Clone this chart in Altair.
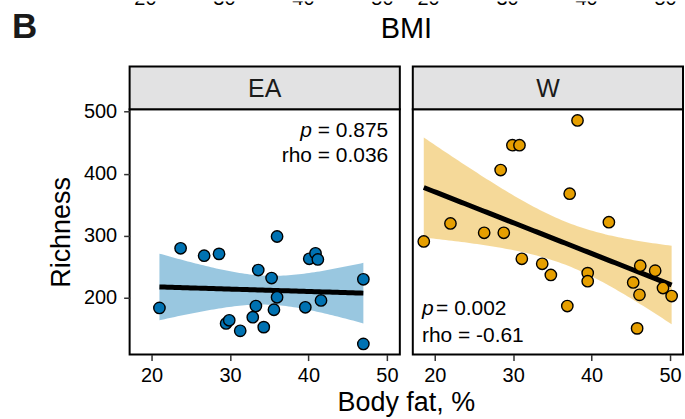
import numpy as np
import pandas as pd
import altair as alt

# ---- data -------------------------------------------------------------
ea_fat = [21.0, 23.7, 26.7, 28.6, 29.5, 29.9, 31.3, 32.9, 33.3, 33.6, 34.3,
          35.3, 35.6, 36.0, 36.0, 39.6, 40.1, 40.9, 41.2, 41.6, 47.0, 47.0]
ea_rich = [184, 280, 268, 271, 159, 164, 147, 169, 187, 245, 153,
           232, 181, 299, 201, 185, 263, 272, 262, 196, 230, 126]

w_fat = [18.6, 22.0, 26.3, 28.8, 28.4, 29.9, 30.8, 31.1, 33.7, 34.8, 38.2, 37.2,
         36.9, 39.5, 39.5, 42.2, 45.3, 46.2, 46.1, 45.8, 48.1, 49.1, 50.2]
w_rich = [291, 320, 305, 305, 406, 446, 446, 263, 255, 237, 486, 368,
          187, 240, 227, 322, 225, 252, 205, 151, 244, 216, 203]

ea_stats = ("0.875", "0.036")
w_stats = ("0.002", "-0.61")

fat_ticks = [20, 30, 40, 50]
rich_ticks = [200, 300, 400, 500]
bmi_ticks = [20, 30, 40, 50]

# two-sided 95% t quantiles for the residual degrees of freedom
T95 = {20: 2.0860, 21: 2.0796}

# ---- styling ------------------------------------------------------------
FONT = "Liberation Sans"
EA_COL = "#0072B2"
W_COL = "#E69F00"
STRIP_FILL = "#E2E2E3"
PW, PH = 271, 246          # panel size
STRIP_H = 43
X_DOM = [17.2, 51.65]
Y_DOM = [108.8, 503.9]
BMI_DOM = [18.0, 52.2]
ANNOT = 21

ADV = {" ": .278, "=": .584, ".": .278, "-": .333, "r": .333,
       "h": .556, "o": .556, "p": .556}


def text_w(s, size):
    return sum(ADV.get(c, .556) for c in s) * size


def lm_band(xv, yv, n_grid=80):
    x = np.asarray(xv, float)
    y = np.asarray(yv, float)
    n = len(x)
    b1, b0 = np.polyfit(x, y, 1)
    s = np.sqrt(np.sum((y - (b0 + b1 * x)) ** 2) / (n - 2))
    sxx = np.sum((x - x.mean()) ** 2)
    gx = np.linspace(x.min(), x.max(), n_grid)
    fit = b0 + b1 * gx
    se = s * np.sqrt(1 / n + (gx - x.mean()) ** 2 / sxx)
    t = T95[n - 2]
    return pd.DataFrame({"x": gx, "fit": fit, "lo": fit - t * se, "hi": fit + t * se})


one = pd.DataFrame({"k": [0]})


def xscale():
    return alt.Scale(domain=X_DOM, nice=False, zero=False)


def yscale():
    return alt.Scale(domain=Y_DOM, nice=False, zero=False)


def panel(label, fat, rich, color, stats, left):
    pts = pd.DataFrame({"fat": fat, "rich": rich})
    band_df = lm_band(fat, rich)

    xaxis = alt.Axis(values=fat_ticks, title=None)
    if left:
        yenc = alt.Y("lo:Q", scale=yscale(),
                     axis=alt.Axis(values=rich_ticks, title="Richness", labelPadding=7))
    else:
        yenc = alt.Y("lo:Q", scale=yscale(), axis=None)

    band = alt.Chart(band_df).mark_area(color=color, opacity=0.4).encode(
        x=alt.X("x:Q", scale=xscale(), axis=xaxis), y=yenc, y2="hi:Q")
    line = alt.Chart(band_df).mark_line(color="black", strokeWidth=5).encode(
        x=alt.X("x:Q", scale=xscale()), y=alt.Y("fit:Q", scale=yscale()))
    dots = alt.Chart(pts).mark_circle(
        size=130, color=color, opacity=1, stroke="black", strokeWidth=1.4
    ).encode(x=alt.X("fat:Q", scale=xscale()), y=alt.Y("rich:Q", scale=yscale()))

    strip = alt.Chart(one).mark_rect(
        fill=STRIP_FILL, stroke="black", strokeWidth=2
    ).encode(x=alt.value(0), x2=alt.value(PW), y=alt.value(-STRIP_H), y2=alt.value(0))
    strip_txt = alt.Chart(one).mark_text(
        text=label, fontSize=25, font=FONT, color="#1a1a1a", baseline="middle"
    ).encode(x=alt.value(PW / 2), y=alt.value(-STRIP_H / 2 + 1))

    p_val, rho = stats
    rest = " = " + p_val
    rho_txt = "rho = " + rho
    if left:
        xr = 259.3
        y1, y2 = 22, 47
        t1 = alt.Chart(one).mark_text(text="p", fontStyle="italic", align="right",
                                      baseline="middle", fontSize=ANNOT, font=FONT).encode(
            x=alt.value(xr - text_w(rest, ANNOT)), y=alt.value(y1))
        t2 = alt.Chart(one).mark_text(text=rest, align="right", baseline="middle",
                                      fontSize=ANNOT, font=FONT).encode(
            x=alt.value(xr), y=alt.value(y1))
        t3 = alt.Chart(one).mark_text(text=rho_txt, align="right", baseline="middle",
                                      fontSize=ANNOT, font=FONT).encode(
            x=alt.value(xr), y=alt.value(y2))
    else:
        xl = 9.2
        y1, y2 = 200, 227
        t1 = alt.Chart(one).mark_text(text="p", fontStyle="italic", align="left",
                                      baseline="middle", fontSize=ANNOT, font=FONT).encode(
            x=alt.value(xl), y=alt.value(y1))
        t2 = alt.Chart(one).mark_text(text=rest, align="left", baseline="middle",
                                      fontSize=ANNOT, font=FONT).encode(
            x=alt.value(xl + text_w("p", ANNOT) + 2.5), y=alt.value(y1))
        t3 = alt.Chart(one).mark_text(text=rho_txt, align="left", baseline="middle",
                                      fontSize=ANNOT, font=FONT).encode(
            x=alt.value(xl), y=alt.value(y2))

    layers = [band, line, dots, strip, strip_txt, t1, t2, t3]
    if left:
        # panel letter, upper axis title and the shared x-axis title
        layers.append(alt.Chart(one).mark_text(
            text="B", fontSize=35, fontWeight="bold", font=FONT, align="left",
            baseline="alphabetic", color="#1a1a1a").encode(
            x=alt.value(-118), y=alt.value(-71)))
        layers.append(alt.Chart(one).mark_text(
            text="BMI", fontSize=29, font=FONT, align="center",
            baseline="alphabetic").encode(x=alt.value(277.5), y=alt.value(-72)))
        layers.append(alt.Chart(one).mark_text(
            text="Body fat, %", fontSize=27, font=FONT, align="center",
            baseline="middle").encode(x=alt.value(277.5), y=alt.value(295)))
    return alt.layer(*layers).properties(width=PW, height=PH)


def bmi_header():
    # tick labels of the BMI panels above, cut at the top edge
    d = pd.DataFrame({"bmi": bmi_ticks})
    return alt.Chart(d).mark_text(
        fontSize=20, font=FONT, baseline="alphabetic", clip=True
    ).encode(
        x=alt.X("bmi:Q", scale=alt.Scale(domain=BMI_DOM, nice=False, zero=False), axis=None),
        y=alt.value(3.5),
        text=alt.Text("bmi:Q"),
    ).properties(width=PW, height=4,
                 view=alt.ViewBackground(stroke="transparent", fill="transparent"))


chart = alt.concat(
    bmi_header(), bmi_header(),
    panel("EA", ea_fat, ea_rich, EA_COL, ea_stats, True),
    panel("W", w_fat, w_rich, W_COL, w_stats, False),
    columns=2,
    spacing={"row": 104, "column": 13},
    bounds="flush",
).properties(
    padding={"left": 11, "top": 0, "right": 0, "bottom": 0},
).configure(
    font=FONT,
).configure_view(
    stroke="black", strokeWidth=2,
).configure_axis(
    domain=False, grid=False, ticks=True, tickColor="#333333", tickWidth=1.5,
    tickSize=6, labelFontSize=20, labelColor="black", labelFont=FONT,
    labelPadding=5, titleFontSize=27, titleFontWeight="normal", titleColor="black",
    titleFont=FONT, titlePadding=8,
)

chart.save("out.html", embed_options={"renderer": "svg", "actions": False})
